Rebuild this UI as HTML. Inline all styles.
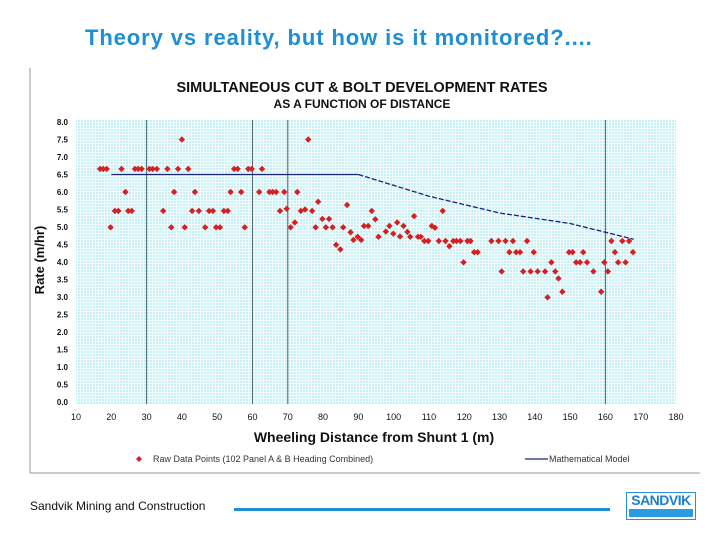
<!DOCTYPE html>
<html><head><meta charset="utf-8"><style>
body{margin:0;width:720px;height:540px;background:#fff;font-family:"Liberation Sans",sans-serif;position:relative;overflow:hidden}
</style></head><body>
<div style="position:absolute;left:85px;top:25px;font-size:22px;font-weight:bold;color:#1e8fd6;letter-spacing:0.9px">Theory vs reality, but how is it monitored?....</div>
<svg id="c" width="720" height="540" style="position:absolute;left:0;top:0" xmlns="http://www.w3.org/2000/svg">
<defs>
<pattern id="dots" width="3" height="3" patternUnits="userSpaceOnUse"><rect width="3" height="3" fill="#f4fcfd"/><rect width="2" height="2" fill="#c6f0f4"/></pattern>
</defs>
<line x1="30" y1="68" x2="30" y2="473" stroke="#999" stroke-width="1"/>
<line x1="30" y1="473" x2="700" y2="473" stroke="#999" stroke-width="1"/>
<text x="362" y="92" text-anchor="middle" font-size="14.5" font-weight="bold" fill="#111">SIMULTANEOUS CUT &amp; BOLT DEVELOPMENT RATES</text>
<text x="362" y="108" text-anchor="middle" font-size="12" font-weight="bold" fill="#111">AS A FUNCTION OF DISTANCE</text>
<text transform="translate(44,260) rotate(-90)" text-anchor="middle" font-size="13" font-weight="bold" fill="#111">Rate (m/hr)</text>
<text x="374" y="442" text-anchor="middle" font-size="14" font-weight="bold" fill="#111">Wheeling Distance from Shunt 1 (m)</text>
<g id="plot"></g>
<g>
<path d="M139 456 l3 3 l-3 3 l-3 -3z" fill="#d42020"/>
<text x="153" y="462" font-size="9" fill="#333">Raw Data Points (102 Panel A &amp; B Heading Combined)</text>
<line x1="525" y1="459" x2="548" y2="459" stroke="#1a237e" stroke-width="1.2"/>
<text x="549" y="462" font-size="9" fill="#333">Mathematical Model</text>
</g>
</svg>
<div style="position:absolute;left:30px;top:499px;font-size:12px;color:#111">Sandvik Mining and Construction</div>
<div style="position:absolute;left:234px;top:508px;width:376px;height:3px;background:#1e8fd6"></div>
<div style="position:absolute;left:626px;top:492px;width:68px;height:26px;border:1px solid #2a8fd6;background:#fff">
<div style="position:absolute;left:0;top:0;width:68px;height:15px;font-size:14px;font-weight:bold;color:#1e7fd0;text-align:center;line-height:15px;letter-spacing:-0.5px">SANDVIK</div>
<div style="position:absolute;left:2px;top:16px;width:64px;height:8px;background:#2a9be0"></div>
</div>
<script>
const xTicks=[10,20,30,40,50,60,70,80,90,100,110,120,130,140,150,160,170,180];
const yTicks=[0,0.5,1,1.5,2,2.5,3,3.5,4,4.5,5,5.5,6,6.5,7,7.5,8];
const vLines=[30,60,70,160];
const modelX=[20,90,110,130,150,168];
const modelY=[6.5,6.5,5.88,5.4,5.1,4.65];
const dataX=[16.8,17.7,18.7,22.9,26.7,27.6,28.6,30.8,31.7,32.9,35.9,38.9,41.8,54.8,55.8,58.8,59.8,62.7,
40.0,75.8,
24.0,37.8,43.7,53.8,56.8,61.9,64.8,65.7,66.7,69.0,72.7,
21.0,22.0,24.8,25.8,34.7,42.9,44.8,47.7,48.8,51.9,53.0,67.8,69.7,73.7,74.9,76.9,
19.8,37.0,40.8,46.6,49.7,50.8,57.8,70.8,72.0,77.9,80.8,82.7,85.7,79.8,81.7,78.6,86.8,83.7,84.9,87.8,88.6,89.8,90.8,91.6,92.8,93.8,94.8,95.7,
97.8,98.8,99.9,101.0,101.8,102.8,103.9,104.7,105.8,106.9,107.7,108.7,109.8,110.8,111.7,112.8,113.9,114.7,115.8,116.9,117.8,118.9,119.8,120.9,121.8,122.8,123.8,
127.7,129.7,130.6,131.7,132.8,133.8,134.7,135.8,136.7,137.8,138.8,139.7,140.8,142.9,143.6,144.7,145.8,146.7,147.8,149.7,150.7,151.7,152.8,153.7,154.8,156.6,158.8,159.7,160.7,161.7,162.7,163.6,164.8,165.7,166.7,167.8];
const dataY=[6.66,6.66,6.66,6.66,6.66,6.66,6.66,6.66,6.66,6.66,6.66,6.66,6.66,6.66,6.66,6.66,6.66,6.66,
7.5,7.5,
6.0,6.0,6.0,6.0,6.0,6.0,6.0,6.0,6.0,6.0,6.0,
5.46,5.46,5.46,5.46,5.46,5.46,5.46,5.46,5.46,5.46,5.46,5.46,5.52,5.46,5.5,5.46,
4.99,4.99,4.99,4.99,4.99,4.99,4.99,4.99,5.13,4.99,4.99,4.99,4.99,5.23,5.23,5.72,5.63,4.49,4.36,4.85,4.63,4.72,4.63,5.03,5.03,5.46,5.22,4.72,
4.87,5.03,4.81,5.13,4.73,5.03,4.86,4.72,5.31,4.72,4.72,4.6,4.6,5.03,4.98,4.6,5.46,4.6,4.45,4.6,4.6,4.6,3.99,4.6,4.6,4.28,4.28,
4.6,4.6,3.73,4.6,4.28,4.6,4.28,4.28,3.73,4.6,3.73,4.28,3.73,3.73,2.99,3.99,3.73,3.53,3.15,4.28,4.28,3.99,3.99,4.28,3.99,3.73,3.15,3.99,3.73,4.6,4.28,3.99,4.6,3.99,4.6,4.28];
const NS='http://www.w3.org/2000/svg';
const X0=76,X1=676,Y0=402,Y1=122;
function sx(v){return X0+(v-10)/170*(X1-X0);}
function sy(v){return Y0-v/8*(Y0-Y1);}
const g=document.getElementById('plot');
function mk(t,a){const e=document.createElementNS(NS,t);for(const k in a)e.setAttribute(k,a[k]);g.appendChild(e);return e;}
const bg=mk('rect',{x:X0,y:Y1-2,width:X1-X0,height:Y0-Y1+4,fill:'url(#dots)'});


vLines.forEach(v=>{const l=mk('line',{x1:sx(v),x2:sx(v),y1:Y1-2,y2:Y0+2,stroke:'#4a6670','stroke-width':1});

});
yTicks.forEach(v=>{const t=mk('text',{x:68,y:sy(v)+3,'text-anchor':'end','font-size':8,'font-weight':'bold',fill:'#111'});t.textContent=v.toFixed(1);

});
xTicks.forEach(v=>{const t=mk('text',{x:sx(v),y:420,'text-anchor':'middle','font-size':9,fill:'#111'});t.textContent=v;

});
const flat='M'+sx(modelX[0])+' '+sy(modelY[0])+'L'+sx(modelX[1])+' '+sy(modelY[1]);
let dec='';for(let i=1;i<modelX.length;i++)dec+=(i>1?'L':'M')+sx(modelX[i])+' '+sy(modelY[i]);
const m1=mk('path',{d:flat,stroke:'#1a237e','stroke-width':1.3,fill:'none'});


const m2=mk('path',{d:dec,stroke:'#1a237e','stroke-width':1.3,fill:'none','stroke-dasharray':'5 2'});


dataX.forEach((v,i)=>{const x=sx(v),y=sy(dataY[i]);
const p=mk('path',{d:`M${x} ${y-3.2}L${x+3.2} ${y}L${x} ${y+3.2}L${x-3.2} ${y}Z`,fill:'#d42020'});

});
</script>
</body></html>
